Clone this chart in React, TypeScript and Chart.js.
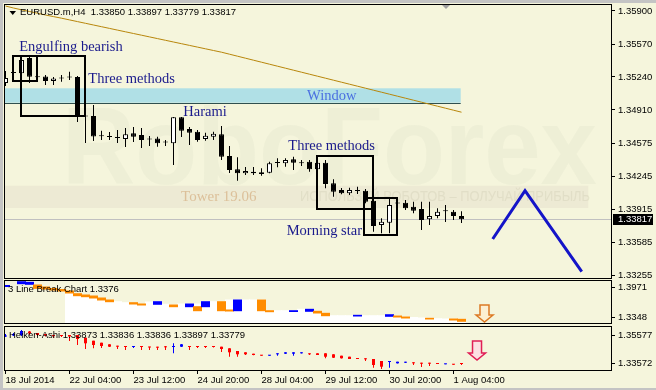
import { useEffect, useRef } from 'react';
import { Chart, registerables } from 'chart.js';

Chart.register(...registerables);

// ---------- data ----------
const dateLabels = ['18 Jul 2014', '22 Jul 04:00', '23 Jul 12:00', '24 Jul 20:00', '28 Jul 04:00', '29 Jul 12:00', '30 Jul 20:00', '1 Aug 04:00'];
const dateTickBars = [0, 8, 16, 24, 32, 40, 48, 56];

const opens = [1.35180, 1.35285, 1.35277, 1.35430, 1.35240, 1.35245, 1.35200, 1.35227, 1.35235, 1.35240,
  1.34850, 1.34850, 1.34652, 1.34645, 1.34635, 1.34620, 1.34677, 1.34660, 1.34619, 1.34625,
  1.34589, 1.34577, 1.34837, 1.34720, 1.34693, 1.34620, 1.34643, 1.34667, 1.34450, 1.34317,
  1.34277, 1.34293, 1.34287, 1.34283, 1.34385, 1.34377, 1.34417, 1.34382, 1.34393, 1.34317,
  1.34383, 1.34177, 1.34110, 1.34077, 1.34105, 1.34103, 1.34003, 1.33760, 1.33783, 1.33979,
  1.33983, 1.33943, 1.33920, 1.33817, 1.33850, 1.33902, 1.33893, 1.33850];
const highs = [1.35300, 1.35330, 1.35440, 1.35450, 1.35260, 1.35260, 1.35240, 1.35260, 1.35293, 1.35250,
  1.34910, 1.34960, 1.34703, 1.34690, 1.34710, 1.34730, 1.34740, 1.34730, 1.34650, 1.34643,
  1.34610, 1.34840, 1.34840, 1.34740, 1.34710, 1.34683, 1.34693, 1.34750, 1.34550, 1.34437,
  1.34340, 1.34340, 1.34327, 1.34393, 1.34427, 1.34427, 1.34443, 1.34410, 1.34410, 1.34400,
  1.34410, 1.34217, 1.34130, 1.34133, 1.34143, 1.34120, 1.34027, 1.33827, 1.34027, 1.34027,
  1.34010, 1.33993, 1.33993, 1.33993, 1.33927, 1.33960, 1.33910, 1.33897];
const lows = [1.35150, 1.35260, 1.35190, 1.35180, 1.35210, 1.35160, 1.35160, 1.35193, 1.35210, 1.34790,
  1.34580, 1.34600, 1.34610, 1.34610, 1.34580, 1.34540, 1.34590, 1.34530, 1.34550, 1.34543,
  1.34550, 1.34360, 1.34640, 1.34560, 1.34593, 1.34603, 1.34610, 1.34410, 1.34280, 1.34203,
  1.34260, 1.34260, 1.34253, 1.34277, 1.34337, 1.34343, 1.34310, 1.34350, 1.34293, 1.34310,
  1.34127, 1.34043, 1.34067, 1.34060, 1.34070, 1.33977, 1.33693, 1.33677, 1.33677, 1.33943,
  1.33910, 1.33877, 1.33710, 1.33760, 1.33827, 1.33790, 1.33810, 1.33779];
const closes = [1.35230, 1.35280, 1.35410, 1.35243, 1.35237, 1.35200, 1.35225, 1.35224, 1.35238, 1.34860,
  1.34845, 1.34645, 1.34648, 1.34641, 1.34631, 1.34667, 1.34643, 1.34610, 1.34615, 1.34577,
  1.34585, 1.34837, 1.34703, 1.34683, 1.34610, 1.34653, 1.34673, 1.34443, 1.34310, 1.34277,
  1.34300, 1.34277, 1.34270, 1.34377, 1.34381, 1.34410, 1.34383, 1.34378, 1.34317, 1.34383,
  1.34170, 1.34093, 1.34077, 1.34110, 1.34101, 1.33993, 1.33750, 1.33793, 1.33960, 1.33975,
  1.33927, 1.33903, 1.33810, 1.33850, 1.33893, 1.33898, 1.33850, 1.33817];
const maValues = [1.35950, 1.35930, 1.35912, 1.35895, 1.35878, 1.35860, 1.35844, 1.35828, 1.35811, 1.35794,
  1.35777, 1.35760, 1.35743, 1.35726, 1.35709, 1.35692, 1.35675, 1.35658, 1.35641, 1.35624,
  1.35607, 1.35590, 1.35573, 1.35556, 1.35539, 1.35522, 1.35505, 1.35488, 1.35468, 1.35448,
  1.35428, 1.35408, 1.35388, 1.35368, 1.35348, 1.35328, 1.35308, 1.35288, 1.35268, 1.35248,
  1.35228, 1.35208, 1.35188, 1.35168, 1.35148, 1.35128, 1.35108, 1.35088, 1.35068, 1.35048,
  1.35028, 1.35008, 1.34988, 1.34968, 1.34948, 1.34928, 1.34908, 1.34888];
const forecastX = [60.9, 64.94, 72.03];
const forecastY = [1.33620, 1.34103, 1.33293];
const priceTicks = [1.35900, 1.35570, 1.35240, 1.34910, 1.34575, 1.34245, 1.33915, 1.33585, 1.33255];
const lastPrice = 1.33817;

// 3 Line Break pane
const lbLow = [1.39959, null, 1.40541, 1.40416, 1.39585, 1.39440, 1.39232, 1.39025, 1.38609, 1.38049,
  1.37841, 1.37571, 1.37156, 1.36803, null, null, 1.36325, 1.36117, null, 1.36263,
  null, 1.35764, null, 1.35764, 1.34934, 1.35764, null, 1.34934, 1.34871, 1.34934,
  null, null, 1.34934, 1.34726, null, null, 1.34767, null, 1.34809, 1.34456,
  1.33895, null, null, null, 1.33833, null, null, null, 1.33771, 1.33625,
  1.33418, null, null, 1.33210, null, null, 1.33002, 1.32732];
const lbHigh = [1.40167, null, 1.40956, 1.40831, 1.40271, 1.39855, 1.39544, 1.39336, 1.39025, 1.38464,
  1.38194, 1.37986, 1.37571, 1.37156, null, null, 1.36595, 1.36325, null, 1.36803,
  null, 1.36117, null, 1.36325, 1.35764, 1.36803, null, 1.36803, 1.35079, 1.37156,
  null, null, 1.37156, 1.34934, null, null, 1.34934, null, 1.35224, 1.34809,
  1.34394, null, null, null, 1.33978, null, null, null, 1.34103, 1.33833,
  1.33625, null, null, 1.33355, null, null, 1.33210, 1.33148];
const lbUp = [1, 0, 1, 1, 0, 0, 0, 0, 0, 0,
  0, 0, 0, 0, 0, 0, 0, 0, 0, 1,
  0, 0, 0, 1, 0, 1, 0, 0, 0, 1,
  0, 0, 0, 0, 0, 0, 1, 0, 1, 0,
  0, 0, 0, 0, 1, 0, 0, 0, 1, 0,
  0, 0, 0, 0, 0, 0, 0, 0];
const lbFill = [null, null, null, null, null, null, null, null, 1.38609, 1.38049,
  1.37841, 1.37571, 1.37156, 1.36803, 1.36803, 1.36595, 1.36325, 1.36117, 1.36740, 1.36803,
  1.36263, 1.36117, 1.36325, 1.36325, 1.36325, 1.36803, 1.36803, 1.36803, 1.37156, 1.37156,
  1.37156, 1.37156, 1.37156, 1.34934, 1.34934, 1.34934, 1.34934, 1.35224, 1.35224, 1.34809,
  1.34394, 1.33895, 1.33895, 1.33895, 1.33895, 1.33895, 1.33895, 1.33895, 1.34103, 1.33833,
  1.33625, 1.33521, 1.33418, 1.33355, 1.33272, 1.33210, 1.33210, 1.33148];
const lbTicks = [1.3971, 1.3348];

// Heiken-Ashi pane
const haOpen = [1.35493, 1.35563, 1.35598, 1.35844, 1.35739, 1.35668, 1.35598, 1.35598, 1.35598, 1.35598,
  1.35408, 1.35197, 1.35056, 1.34944, 1.34845, 1.34824, 1.34753, 1.34824, 1.34775, 1.34775,
  1.34803, 1.34753, 1.34775, 1.34824, 1.34824, 1.34824, 1.34824, 1.34775, 1.34662, 1.34472,
  1.34381, 1.34282, 1.34191, 1.34142, 1.34240, 1.34282, 1.34282, 1.34310, 1.34310, 1.34310,
  1.34310, 1.34240, 1.34142, 1.34071, 1.33959, 1.33959, 1.33909, 1.33768, 1.33698, 1.33607,
  1.33649, 1.33677, 1.33649, 1.33649, 1.33607, 1.33536, 1.33557, 1.33628];
const haClose = [1.35563, 1.35668, 1.35880, 1.35704, 1.35598, 1.35563, 1.35528, 1.35528, 1.35493, 1.35317,
  1.35014, 1.34894, 1.34824, 1.34775, 1.34775, 1.34753, 1.34824, 1.34753, 1.34719, 1.34705,
  1.34733, 1.34824, 1.34944, 1.34753, 1.34753, 1.34753, 1.34753, 1.34613, 1.34381, 1.34240,
  1.34240, 1.34191, 1.34142, 1.34191, 1.34310, 1.34381, 1.34381, 1.34381, 1.34240, 1.34191,
  1.34071, 1.34001, 1.33959, 1.33909, 1.33909, 1.33888, 1.33487, 1.33368, 1.33768, 1.33719,
  1.33719, 1.33607, 1.33579, 1.33579, 1.33557, 1.33579, 1.33508, 1.33557];
const haHigh = [1.35668, 1.35739, 1.35950, 1.35880, 1.35739, 1.35668, 1.35598, 1.35598, 1.35598, 1.35598,
  1.35408, 1.35197, 1.35056, 1.34944, 1.34845, 1.34824, 1.34824, 1.34824, 1.34775, 1.34775,
  1.34824, 1.35014, 1.34965, 1.34824, 1.34824, 1.34824, 1.34824, 1.34775, 1.34662, 1.34472,
  1.34381, 1.34282, 1.34191, 1.34191, 1.34310, 1.34381, 1.34381, 1.34381, 1.34310, 1.34310,
  1.34310, 1.34240, 1.34142, 1.34071, 1.33959, 1.33959, 1.33909, 1.33768, 1.33768, 1.33719,
  1.33719, 1.33677, 1.33649, 1.33649, 1.33607, 1.33579, 1.33557, 1.33628];
const haLow = [1.35457, 1.35528, 1.35528, 1.35598, 1.35528, 1.35493, 1.35387, 1.35457, 1.35176, 1.34894,
  1.34613, 1.34662, 1.34683, 1.34753, 1.34613, 1.34542, 1.34683, 1.34542, 1.34542, 1.34542,
  1.34542, 1.34310, 1.34753, 1.34542, 1.34683, 1.34683, 1.34719, 1.34402, 1.34071, 1.34071,
  1.34191, 1.34170, 1.34142, 1.34142, 1.34142, 1.34261, 1.34142, 1.34296, 1.34191, 1.34191,
  1.33959, 1.33980, 1.33945, 1.33909, 1.33909, 1.33768, 1.33297, 1.33206, 1.33297, 1.33593,
  1.33628, 1.33487, 1.33346, 1.33417, 1.33557, 1.33536, 1.33508, 1.33487];
const haTicks = [1.35577, 1.33572];

// annotations (in bar-index / price coordinates)
const patternBoxes = [
  [0.9, 3.97, 1.35450, 1.35200],
  [1.9, 9.94, 1.35450, 1.34850],
  [38.98, 45.98, 1.34455, 1.33920],
  [44.85, 48.98, 1.34035, 1.33660],
];
const patternTexts = ['Engulfing bearish', 'Three methods', 'Window', 'Harami', 'Three methods', 'Morning star'];
const patternTextX = [1.72, 10.35, 37.69, 22.22, 35.35, 35.15];
const patternTextY = [1.35535, 1.35220, 1.35050, 1.34885, 1.34550, 1.33700];
const windowZone = [56.9, 1.35127, 1.34983];
const towerZone = [72.85, 1.34153, 1.33930];

// ---------- styling ----------
const BG = 'rgb(245,245,220)';
const SANS = 'Liberation Sans';
const SERIF = '"Liberation Serif", "Times New Roman", serif';
const X_MIN = -0.0625;
const X_MAX = 75.6875;
const ORANGE = '#ff8c00';
const BLUE = '#0000ff';
const RED = '#ff0000';

function xScale(show: boolean): any {
  return {
    type: 'linear', min: X_MIN, max: X_MAX, bounds: 'data', offset: false, display: show,
    grid: { display: show, drawOnChartArea: false, drawTicks: true, tickLength: 4, color: '#000', offset: false },
    border: { display: false },
    ticks: {
      autoSkip: false, maxRotation: 0, minRotation: 0, align: 'start', padding: 1, color: '#000',
      font: { family: SANS, size: 9.5 },
      callback: (_v: any, i: number) => dateLabels[i] ?? '',
    },
    afterBuildTicks: (s: any) => { s.ticks = dateTickBars.map((v) => ({ value: v })); },
    afterFit: (s: any) => { if (show) s.height = 18; s.paddingLeft = 0; s.paddingRight = 0; },
  };
}

function yScale(min: number, max: number, tickVals: number[], decimals: number): any {
  return {
    type: 'linear', position: 'right', min, max, bounds: 'data', beginAtZero: false,
    grid: { drawOnChartArea: false, drawTicks: true, tickLength: 4, color: '#000' },
    border: { display: true, color: '#000' },
    ticks: {
      padding: 3, color: '#000', autoSkip: false, font: { family: SANS, size: 9.5 },
      callback: (v: any) => Number(v).toFixed(decimals),
    },
    afterBuildTicks: (s: any) => { s.ticks = tickVals.map((v) => ({ value: v })); },
    afterFit: (s: any) => { s.width = 45; s.paddingTop = 0; s.paddingBottom = 0; },
  };
}

function fillBg(chart: any) {
  const { ctx, width, height } = chart;
  ctx.save();
  ctx.fillStyle = BG;
  ctx.fillRect(3, 0, width - 3, height);
  ctx.restore();
}

function drawFrame(chart: any) {
  const { ctx, chartArea: a } = chart;
  ctx.save();
  ctx.strokeStyle = '#000';
  ctx.lineWidth = 1;
  ctx.strokeRect(a.left - 0.5, a.top - 0.5, a.right - a.left + 1, a.bottom - a.top + 1);
  ctx.restore();
}

function downArrow(ctx: CanvasRenderingContext2D, cx: number, top: number, tip: number, stroke: string, fill: string) {
  const sh = 4.5, hh = 8.5, headH = 7;
  const neck = tip - headH;
  ctx.save();
  ctx.beginPath();
  ctx.moveTo(cx - sh, top);
  ctx.lineTo(cx + sh, top);
  ctx.lineTo(cx + sh, neck);
  ctx.lineTo(cx + hh, neck);
  ctx.lineTo(cx, tip);
  ctx.lineTo(cx - hh, neck);
  ctx.lineTo(cx - sh, neck);
  ctx.closePath();
  ctx.fillStyle = fill;
  ctx.fill();
  ctx.strokeStyle = stroke;
  ctx.lineWidth = 1.5;
  ctx.stroke();
  ctx.restore();
}

const mainPlugin = {
  id: 'mainDeco',
  beforeDraw(chart: any) {
    const { ctx, width, height } = chart;
    ctx.save();
    ctx.fillStyle = BG;
    ctx.fillRect(3, 3, width - 3, height - 3);
    ctx.restore();
  },
  beforeDatasetsDraw(chart: any) {
    const { ctx, chartArea: a, scales } = chart;
    const x = scales.x, y = scales.y;
    ctx.save();
    ctx.beginPath();
    ctx.rect(a.left, a.top, a.right - a.left, a.bottom - a.top);
    ctx.clip();
    // watermark
    ctx.fillStyle = 'rgba(190,200,175,0.13)';
    ctx.font = `bold 110px ${SANS}`;
    ctx.textBaseline = 'alphabetic';
    ctx.textAlign = 'left';
    ctx.fillText('RoboForex', 62, 184, 535);
    // tower band
    const tx1 = x.getPixelForValue(towerZone[0]);
    const ty0 = y.getPixelForValue(towerZone[1]);
    const ty1 = y.getPixelForValue(towerZone[2]);
    ctx.fillStyle = 'rgb(237,234,212)';
    ctx.fillRect(a.left, ty0, tx1 - a.left, ty1 - ty0);
    ctx.fillStyle = 'rgba(200,195,170,0.3)';
    ctx.font = `14px ${SANS}`;
    ctx.textBaseline = 'middle';
    ctx.fillText('ИСПОЛЬЗУЙ РОБОТОВ – ПОЛУЧАЙ ПРИБЫЛЬ', 300, (ty0 + ty1) / 2, 290);
    ctx.fillStyle = '#dcc09a';
    ctx.font = `15px ${SERIF}`;
    ctx.fillText('Tower 19.06', x.getPixelForValue(21.94), y.getPixelForValue(1.3404));
    // window band
    const wx1 = x.getPixelForValue(windowZone[0]);
    const wy0 = y.getPixelForValue(windowZone[1]);
    const wy1 = y.getPixelForValue(windowZone[2]);
    ctx.fillStyle = 'rgb(176,224,230)';
    ctx.fillRect(a.left, wy0, wx1 - a.left, wy1 - wy0);
    ctx.strokeStyle = '#2f4f4f';
    ctx.lineWidth = 1;
    ctx.beginPath();
    ctx.moveTo(a.left, Math.round(wy1) + 0.5);
    ctx.lineTo(wx1, Math.round(wy1) + 0.5);
    ctx.stroke();
    // last price line
    const py = Math.round(y.getPixelForValue(lastPrice)) + 0.5;
    ctx.strokeStyle = '#c0c0c0';
    ctx.beginPath();
    ctx.moveTo(a.left, py);
    ctx.lineTo(a.right, py);
    ctx.stroke();
    ctx.restore();
  },
  afterDatasetsDraw(chart: any) {
    const { ctx, scales } = chart;
    const x = scales.x, y = scales.y;
    ctx.save();
    ctx.strokeStyle = '#000';
    ctx.lineWidth = 2;
    patternBoxes.forEach((b) => {
      const x0 = Math.round(x.getPixelForValue(b[0]));
      const x1 = Math.round(x.getPixelForValue(b[1]));
      const y0 = Math.round(y.getPixelForValue(b[2]));
      const y1 = Math.round(y.getPixelForValue(b[3]));
      ctx.strokeRect(x0, y0, x1 - x0, y1 - y0);
    });
    ctx.font = `14.5px ${SERIF}`;
    ctx.textBaseline = 'middle';
    ctx.textAlign = 'left';
    patternTexts.forEach((t, i) => {
      ctx.fillStyle = t === 'Window' ? '#4a6fe0' : '#1a1a8c';
      ctx.fillText(t, x.getPixelForValue(patternTextX[i]), y.getPixelForValue(patternTextY[i]));
    });
    ctx.restore();
  },
  afterDraw(chart: any) {
    const { ctx, scales, chartArea: a } = chart;
    const y = scales.y;
    drawFrame(chart);
    ctx.save();
    // info line
    ctx.fillStyle = '#000';
    ctx.beginPath();
    ctx.moveTo(9.5, 11);
    ctx.lineTo(16, 11);
    ctx.lineTo(12.75, 15);
    ctx.closePath();
    ctx.fill();
    ctx.font = `9.5px ${SANS}`;
    ctx.textBaseline = 'middle';
    ctx.textAlign = 'left';
    ctx.fillText('EURUSD.m,H4  1.33850 1.33897 1.33779 1.33817', 20, 12.5);
    // chart shift marker
    ctx.fillStyle = '#a0a0a0';
    ctx.beginPath();
    ctx.moveTo(442, a.top);
    ctx.lineTo(450, a.top);
    ctx.lineTo(446, a.top + 4);
    ctx.closePath();
    ctx.fill();
    // price label
    const py = y.getPixelForValue(lastPrice);
    ctx.fillStyle = '#000';
    ctx.fillRect(613, Math.round(py) - 5, 40, 11);
    ctx.fillStyle = '#fff';
    ctx.fillText(lastPrice.toFixed(5), 618, Math.round(py) + 0.5);
    ctx.restore();
  },
};

const lbPlugin = {
  id: 'lbDeco',
  beforeDraw: fillBg,
  afterDatasetsDraw(chart: any) {
    const { ctx, chartArea: a, scales } = chart;
    ctx.save();
    ctx.fillStyle = '#000';
    ctx.font = `9.5px ${SANS}`;
    ctx.textBaseline = 'middle';
    ctx.textAlign = 'left';
    ctx.fillText('3 Line Break Chart 1.3376', 8, a.top + 8.5);
    ctx.restore();
    downArrow(ctx, scales.x.getPixelForValue(59.875), scales.y.getPixelForValue(1.36117), scales.y.getPixelForValue(1.32587), '#dc7a24', 'rgba(255,236,205,0.7)');
  },
  afterDraw: drawFrame,
};

const haPlugin = {
  id: 'haDeco',
  beforeDraw: fillBg,
  afterDatasetsDraw(chart: any) {
    const { ctx, chartArea: a, scales } = chart;
    ctx.save();
    ctx.fillStyle = '#000';
    ctx.font = `9.5px ${SANS}`;
    ctx.textBaseline = 'middle';
    ctx.textAlign = 'left';
    ctx.fillText('Heiken-Ashi 1.33873 1.33836 1.33836 1.33897 1.33779', 9, a.top + 8.5);
    ctx.restore();
    downArrow(ctx, scales.x.getPixelForValue(58.94), scales.y.getPixelForValue(1.35176), scales.y.getPixelForValue(1.33839), '#e01e55', 'rgba(255,215,228,0.7)');
  },
  afterDraw: drawFrame,
};

const common: any = {
  responsive: false,
  animation: false,
  devicePixelRatio: 1,
  events: [],
  plugins: { legend: { display: false }, tooltip: { enabled: false } },
};

function barDs(data: any[], thickness: number, color: any, extra: any = {}): any {
  return {
    type: 'bar', data, grouped: false, barThickness: thickness, maxBarThickness: thickness,
    borderSkipped: false, inflateAmount: 0, borderWidth: 0, backgroundColor: color, ...extra,
  };
}

export default function App() {
  const refA = useRef<HTMLCanvasElement>(null);
  const refB = useRef<HTMLCanvasElement>(null);
  const refC = useRef<HTMLCanvasElement>(null);

  useEffect(() => {
    document.body.style.margin = '0';

    const bodies = opens.map((o, i) => ({ x: i, y: [o, closes[i]] }));
    const wicks = lows.map((l, i) => ({ x: i, y: [l, highs[i]] }));
    const ma = maValues.map((v, i) => ({ x: i, y: v }));
    const forecast = forecastX.map((v, i) => ({ x: v, y: forecastY[i] }));

    const chartA = new Chart(refA.current as HTMLCanvasElement, {
      type: 'bar',
      data: {
        datasets: [
          barDs(bodies, 5, (c: any) => (closes[c.dataIndex] > opens[c.dataIndex] ? '#ffffff' : '#000000'), { borderWidth: 1, borderColor: '#000', minBarLength: 1 }),
          barDs(wicks, 1, '#000'),
          { type: 'line', data: ma, borderColor: '#b8860b', borderWidth: 1, pointRadius: 0, tension: 0, fill: false },
          { type: 'line', data: forecast, borderColor: '#1414c8', borderWidth: 3, pointRadius: 0, tension: 0, fill: false },
        ],
      } as any,
      options: {
        ...common,
        layout: { padding: { left: 5, top: 5, right: 0, bottom: 2 } },
        scales: { x: xScale(false), y: yScale(1.3323, 1.3596, priceTicks, 5) },
      },
      plugins: [mainPlugin],
    });

    const lbBlocks: any[] = [];
    lbLow.forEach((l, i) => { if (l !== null) lbBlocks.push({ x: i, y: [l, lbHigh[i]] }); });
    const lbWhite: any[] = [];
    lbFill.forEach((f, i) => { if (f !== null) lbWhite.push({ x: i, y: [1.3238, f] }); });

    const chartB = new Chart(refB.current as HTMLCanvasElement, {
      type: 'bar',
      data: {
        datasets: [
          barDs(lbBlocks, 8, (c: any) => (lbUp[c.raw ? c.raw.x : 0] ? BLUE : ORANGE), { inflateAmount: 0.5 }),
          barDs(lbWhite, 8, '#ffffff', { inflateAmount: 0.5 }),
        ],
      } as any,
      options: {
        ...common,
        layout: { padding: { left: 5, top: 1, right: 0, bottom: 1 } },
        scales: { x: xScale(false), y: yScale(1.32379, 1.41101, lbTicks, 4) },
      },
      plugins: [lbPlugin],
    });

    const haBodies = haOpen.map((o, i) => ({ x: i, y: [o, haClose[i]] }));
    const haWicks = haLow.map((l, i) => ({ x: i, y: [l, haHigh[i]] }));
    const haColor = (c: any) => (haClose[c.dataIndex] > haOpen[c.dataIndex] ? BLUE : RED);

    const chartC = new Chart(refC.current as HTMLCanvasElement, {
      type: 'bar',
      data: {
        datasets: [
          barDs(haBodies, 3, haColor, { minBarLength: 1 }),
          barDs(haWicks, 1, haColor),
        ],
      } as any,
      options: {
        ...common,
        layout: { padding: { left: 5, top: 3, right: 0, bottom: 0 } },
        scales: { x: xScale(true), y: yScale(1.33136, 1.36161, haTicks, 5) },
      },
      plugins: [haPlugin],
    });

    return () => {
      chartA.destroy();
      chartB.destroy();
      chartC.destroy();
    };
  }, []);

  return (
    <div style={{ position: 'relative', width: 656, height: 390, background: '#c4c4c4', overflow: 'hidden' }}>
      <canvas ref={refA} width={656} height={280} style={{ position: 'absolute', left: 0, top: 0 }} />
      <canvas ref={refB} width={656} height={44} style={{ position: 'absolute', left: 0, top: 280 }} />
      <canvas ref={refC} width={656} height={64} style={{ position: 'absolute', left: 0, top: 324 }} />
    </div>
  );
}
